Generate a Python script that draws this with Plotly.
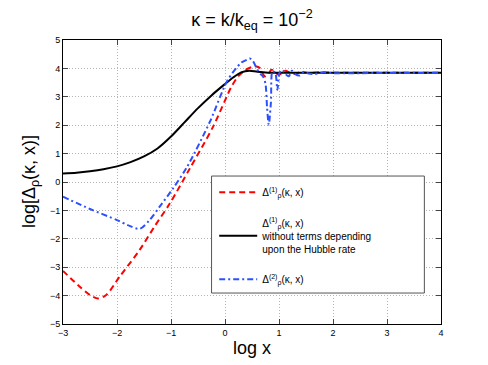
import plotly.graph_objects as go

# log x and log Delta values
x_black = [-3.0, -2.75, -2.5, -2.25, -2.0, -1.75, -1.5, -1.25, -1.0, -0.75, -0.5, -0.25, 0.0, 0.15, 0.3, 0.45,
           0.6, 0.8, 1.2, 2.0, 3.0, 4.0]
y_black = [0.30, 0.33, 0.38, 0.45, 0.55, 0.70, 0.90, 1.18, 1.60, 2.10, 2.60, 3.05, 3.45, 3.68, 3.86, 3.92,
           3.88, 3.85, 3.85, 3.85, 3.85, 3.85]

x_red = [-3.0, -2.7, -2.5, -2.35, -2.2, -1.95, -1.58, -1.3, -1.02, -0.65, -0.22, 0.12, 0.24, 0.38, 0.5, 0.58,
         0.64, 0.69, 0.74, 0.80, 0.86, 0.92, 0.98, 1.05, 1.12, 1.2, 1.3, 1.4, 1.55, 1.7, 2.0, 3.0, 4.0]
y_red = [-3.13, -3.67, -3.98, -4.10, -3.98, -3.33, -2.39, -1.55, -0.75, 0.48, 1.95, 3.36, 3.71, 3.95, 4.05, 4.07,
         4.02, 3.85, 3.72, 3.80, 3.95, 3.90, 3.78, 3.82, 3.92, 3.85, 3.80, 3.88, 3.84, 3.86, 3.85, 3.85, 3.85]

x_blue = [-3.0, -2.5, -2.0, -1.8, -1.58, -1.4, -1.21, -0.96, -0.70, -0.28, 0.05, 0.30, 0.40, 0.46, 0.52, 0.60,
          0.66, 0.71, 0.75, 0.78, 0.81, 0.85, 0.88, 0.93, 0.97, 1.01, 1.06, 1.12, 1.18, 1.24, 1.30, 1.38, 1.46,
          1.55, 1.65, 1.8, 2.0, 3.0, 4.0]
y_blue = [-0.52, -0.95, -1.34, -1.52, -1.65, -1.35, -0.87, -0.22, 0.54, 2.12, 3.59, 4.20, 4.30, 4.35, 4.25, 3.95,
          3.80, 3.70, 3.45, 2.60, 2.02, 2.80, 3.90, 3.85, 3.25, 3.85, 3.95, 3.80, 3.72, 3.92, 3.80, 3.75, 3.88,
          3.82, 3.80, 3.86, 3.83, 3.84, 3.84]

name_red = "Δ<sup>(1)</sup><sub>ρ</sub>(κ, x)"
name_black = "Δ<sup>(1)</sup><sub>ρ</sub>(κ, x)<br>without terms depending<br>upon the Hubble rate"
name_blue = "Δ<sup>(2)</sup><sub>ρ</sub>(κ, x)"

fig = go.Figure()
fig.add_trace(go.Scatter(x=x_red, y=y_red, mode="lines", name=name_red, legendgroup="a",
                         line=dict(color="#ff0000", width=2, dash="6px,4px", shape="spline", smoothing=0.8)))
fig.add_trace(go.Scatter(x=x_black, y=y_black, mode="lines", name=name_black, legendgroup="b",
                         line=dict(color="black", width=2, shape="spline", smoothing=0.8)))
fig.add_trace(go.Scatter(x=x_blue, y=y_blue, mode="lines", name=name_blue, legendgroup="c",
                         line=dict(color="#2b50ff", width=2, dash="6px,3px,2px,3px", shape="spline", smoothing=0.8)))

# white legend box like matlab
fig.add_shape(type="rect", xref="paper", yref="paper", x0=0.393, x1=0.956, y0=0.109, y1=0.521,
              line=dict(color="#555555", width=1), fillcolor="white", layer="above")

# y title as annotation so it sits closer to the axis
fig.add_annotation(text="log[Δ<sub>ρ</sub>(κ, x)]", xref="paper", yref="paper", x=-0.087, y=0.5,
                   textangle=-90, showarrow=False, font=dict(size=18), xanchor="center", yanchor="middle")

# page body adds 8px, margins take that into account
fig.update_layout(
    width=488, height=365,
    margin=dict(l=55, r=55, t=32, b=49),
    paper_bgcolor="white", plot_bgcolor="white",
    font=dict(family="Liberation Sans, Arial, sans-serif", size=9, color="black"),
    title=dict(text="κ = k/k<sub>eq</sub> = 10<sup>−2</sup>", x=0.5, xanchor="center",
               y=0.968, yanchor="middle", font=dict(size=18)),
    showlegend=True,
    legend=dict(x=0.4, y=0.515, xanchor="left", yanchor="top", bgcolor="rgba(0,0,0,0)",
                borderwidth=0, tracegroupgap=13, itemwidth=38, font=dict(size=10)),
)

fig.update_xaxes(range=[-3, 4], tickvals=[-3, -2, -1, 0, 1, 2, 3, 4], title_text="log x", title_font_size=18,
                 title_standoff=4, ticks="inside", ticklen=5, showline=True, linecolor="black", mirror="ticks",
                 showgrid=True, gridcolor="#b4b4b4", griddash="1px,2px", zeroline=False)
fig.update_yaxes(range=[-5, 5], tickvals=[-5, -4, -3, -2, -1, 0, 1, 2, 3, 4, 5],
                 ticks="inside", ticklen=5, showline=True, linecolor="black", mirror="ticks",
                 showgrid=True, gridcolor="#b4b4b4", griddash="1px,2px", zeroline=False)

fig.write_html("out.html")
